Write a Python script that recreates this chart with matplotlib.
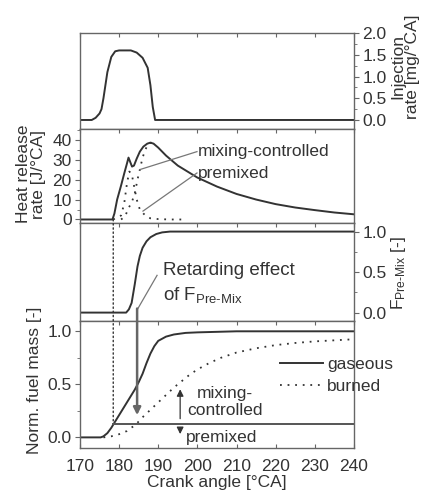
import numpy as np
import matplotlib
matplotlib.use("Agg")
import matplotlib.pyplot as plt
from matplotlib.patches import ConnectionPatch
from matplotlib.ticker import MultipleLocator

plt.rcParams['font.family'] = ['Liberation Sans', 'DejaVu Sans']
plt.rcParams['font.size'] = 12.5
plt.rcParams['mathtext.fontset'] = 'custom'
plt.rcParams['mathtext.rm'] = 'Liberation Sans'
plt.rcParams['mathtext.it'] = 'Liberation Sans'

LINE = '#333333'
FRAME = '#666666'
DOT = (0, (1, 3.2))

# --- injection rate [mg/°CA]
inj_ca = [170, 173, 174, 175, 175.5, 176, 177, 178, 179, 180, 183, 184.5, 186, 187.3, 188, 188.6, 189.2, 240]
inj_rate = [0, 0, 0.05, 0.15, 0.25, 0.5, 1.1, 1.45, 1.58, 1.6, 1.6, 1.55, 1.43, 1.2, 0.8, 0.3, 0, 0]

# --- heat release rate [J/°CA]
hrr_ca = [170, 178.3, 178.8, 179.5, 180.5, 181.3, 182.0, 182.4, 182.8, 183.3, 183.8, 184.5,
          185.3, 186.2, 187.2, 188.0, 188.8, 190, 192, 195, 200, 205, 210, 215, 220, 225, 230, 235, 240]
hrr_total = [0, 0, 3, 10, 17, 23, 28, 31, 29, 26.5, 27, 30.5,
             34, 36.5, 38, 38.5, 38, 36, 32, 27, 21, 16.5, 12.8, 10, 7.7, 6, 4.7, 3.5, 2.6]
prem_ca = [178.5, 180.5, 181.3, 182.0, 182.6, 183.2, 183.8, 184.5, 185.3, 186.2, 187.0, 188.0, 190, 193, 197]
prem_hrr = [0, 2, 8, 18, 24, 23, 17, 10, 5, 3, 1.5, 0.6, 0.2, 0, 0]
mix_ca = [180.5, 181.5, 182.5, 183.3, 184.0, 184.7, 185.3, 186.0, 186.7, 187.5, 188.3]
mix_hrr = [0, 1.5, 6, 9, 13, 20, 25, 31, 35, 38, 38.5]

# --- premixed combustion factor [-]
f_ca = [170, 181.8, 182.5, 183.2, 184.0, 184.7, 185.3, 186.0, 187.0, 188.0, 189.5, 191, 193, 240]
f_premix = [0, 0, 0.04, 0.12, 0.35, 0.57, 0.7, 0.8, 0.88, 0.93, 0.97, 0.99, 1.0, 1.0]

# --- normalised fuel mass [-]
gas_ca = [170, 175.3, 176, 177, 178, 179, 180, 181, 182, 183, 184, 185, 186, 187, 188,
          189, 190, 191, 192, 194, 197, 200, 210, 240]
gas_mass = [0, 0, 0.01, 0.04, 0.09, 0.15, 0.21, 0.27, 0.33, 0.39, 0.45, 0.52, 0.6, 0.7, 0.79,
            0.86, 0.91, 0.93, 0.95, 0.97, 0.985, 0.99, 1.0, 1.0]
burn_ca = [176, 178, 180, 182, 183, 184, 185, 186, 188, 190, 192, 194, 196, 198, 200,
           203, 206, 210, 215, 220, 225, 230, 235, 240]
burn_mass = [0, 0.01, 0.03, 0.06, 0.09, 0.11, 0.15, 0.19, 0.26, 0.33, 0.4, 0.47, 0.53, 0.59, 0.64,
             0.7, 0.75, 0.8, 0.84, 0.87, 0.89, 0.905, 0.915, 0.925]

soc = 178.5          # start of combustion
premixed_share = 0.13
retard_ca = 184.6

fig = plt.figure(figsize=(4.30, 4.93), dpi=100)
L, W = 0.186, 0.637
ax1 = fig.add_axes([L, 0.739, W, 0.933 - 0.739])
ax2 = fig.add_axes([L, 0.5467, W, 0.739 - 0.5467])
ax3 = fig.add_axes([L, 0.3495, W, 0.5467 - 0.3495])
ax4 = fig.add_axes([L, 0.0913, W, 0.3495 - 0.0913])

for ax in (ax1, ax2, ax3, ax4):
    ax.set_xlim(170, 240)
    ax.xaxis.set_major_locator(MultipleLocator(10))
    for s in ax.spines.values():
        s.set_color(FRAME)
        s.set_linewidth(1.0)
    ax.tick_params(axis='x', which='both', direction='in', top=True, bottom=False,
                   labelbottom=False, length=3, color=FRAME)
    ax.tick_params(axis='y', which='both', direction='out', color=FRAME, labelcolor=LINE, pad=2.5)
    ax.tick_params(axis='y', which='major', length=3.5)
    ax.tick_params(axis='y', which='minor', length=2)

ax4.tick_params(axis='x', which='both', bottom=True, labelbottom=True, labelcolor=LINE, pad=8)

# panel 1: injection
ax1.plot(inj_ca, inj_rate, color=LINE, lw=1.4)
ax1.set_ylim(-0.2, 2.0)
ax1.yaxis.tick_right()
ax1.yaxis.set_label_position('right')
ax1.yaxis.set_minor_locator(MultipleLocator(0.25))
ax1.set_yticks([0, 0.5, 1.0, 1.5, 2.0])
ax1.set_yticklabels(['0.0', '0.5', '1.0', '1.5', '2.0'])
ax1.set_ylabel('Injection\nrate [mg/°CA]', color=LINE, linespacing=0.95)
ax1.yaxis.set_label_coords(1.135, 0.65)

# panel 2: heat release rate
ax2.plot(prem_ca, prem_hrr, color=LINE, lw=1.3, ls=DOT)
ax2.plot(mix_ca, mix_hrr, color=LINE, lw=1.3, ls=DOT)
ax2.plot(hrr_ca, hrr_total, color=LINE, lw=1.4)
ax2.set_ylim(-2, 45.5)
ax2.set_yticks([0, 10, 20, 30, 40])
ax2.yaxis.set_minor_locator(MultipleLocator(5))
ax2.set_ylabel('Heat release\nrate [J/°CA]', color=LINE, linespacing=0.95)
ax2.yaxis.set_label_coords(-0.125, 0.52)
ax2.plot([199.9, 185.3], [34, 25], color='#777777', lw=0.9)
ax2.plot([199.9, 186.1], [23.3, 4.2], color='#777777', lw=0.9)
ax2.text(200.2, 34, 'mixing-controlled', va='center', ha='left', color=LINE)
ax2.text(200.2, 23.0, 'premixed', va='center', ha='left', color=LINE)

# panel 3: premixed factor
ax3.plot(f_ca, f_premix, color=LINE, lw=1.4)
ax3.set_ylim(-0.1, 1.1)
ax3.yaxis.tick_right()
ax3.yaxis.set_label_position('right')
ax3.set_yticks([0, 0.5, 1.0])
ax3.set_yticklabels(['0.0', '0.5', '1.0'])
ax3.yaxis.set_minor_locator(MultipleLocator(0.25))
ax3.set_ylabel(r'F$_{\mathregular{Pre\text{-}Mix}}$ [-]', color=LINE)
ax3.yaxis.set_label_coords(1.13, 0.49)
ax3.plot([189.7, 184.8], [0.46, 0.05], color='#777777', lw=0.9)
ax3.text(191.2, 0.52, 'Retarding effect', va='center', ha='left', color=LINE, fontsize=13.5)
ax3.text(191.2, 0.22, r'of F$_{\mathregular{Pre\text{-}Mix}}$', va='center', ha='left',
         color=LINE, fontsize=13.5)

# panel 4: fuel mass
ax4.plot(gas_ca, gas_mass, color=LINE, lw=1.4, label='gaseous')
ax4.plot(burn_ca, burn_mass, color=LINE, lw=1.3, ls=DOT, label='burned')
ax4.plot([soc, 240], [premixed_share, premixed_share], color='#555555', lw=1.4)
ax4.set_ylim(-0.1, 1.1)
ax4.set_yticks([0, 0.5, 1.0])
ax4.set_yticklabels(['0.0', '0.5', '1.0'])
ax4.yaxis.set_minor_locator(MultipleLocator(0.25))
ax4.set_ylabel('Norm. fuel mass [-]', color=LINE)
ax4.yaxis.set_label_coords(-0.14, 0.53)
ax4.set_xlabel('Crank angle [°CA]', color=LINE, labelpad=1)
ax4.legend(loc='upper left', bbox_to_anchor=(0.73, 0.715), frameon=False,
           handlelength=2.5, handletextpad=0.2, borderpad=0, borderaxespad=0,
           labelspacing=0.4, labelcolor=LINE)

ax4.annotate('', xy=(195.6, 0.48), xytext=(195.6, 0.15),
             arrowprops=dict(arrowstyle='-|>', color=LINE, lw=0.9, mutation_scale=10))
ax4.annotate('', xy=(195.6, 0.005), xytext=(195.6, 0.115),
             arrowprops=dict(arrowstyle='-|>', color=LINE, lw=0.9, mutation_scale=10))
ax4.text(207.0, 0.335, 'mixing-\ncontrolled', ha='center', va='center', color=LINE,
         multialignment='center', linespacing=1.15)
ax4.text(197.2, 0.0, 'premixed', ha='left', va='center', color=LINE)

# start of combustion marker and retarding arrow across panels
soc_line = ConnectionPatch(xyA=(soc, 0), coordsA=ax2.transData,
                           xyB=(soc, premixed_share), coordsB=ax4.transData,
                           color=LINE, lw=1.0, ls=(0, (1, 2)))
fig.add_artist(soc_line)
retard = ConnectionPatch(xyA=(retard_ca, 0.05), coordsA=ax3.transData,
                         xyB=(retard_ca, 0.21), coordsB=ax4.transData,
                         color='#666666', lw=1.8, arrowstyle='-|>', mutation_scale=11)
fig.add_artist(retard)

fig.savefig('out.png', dpi=100)
